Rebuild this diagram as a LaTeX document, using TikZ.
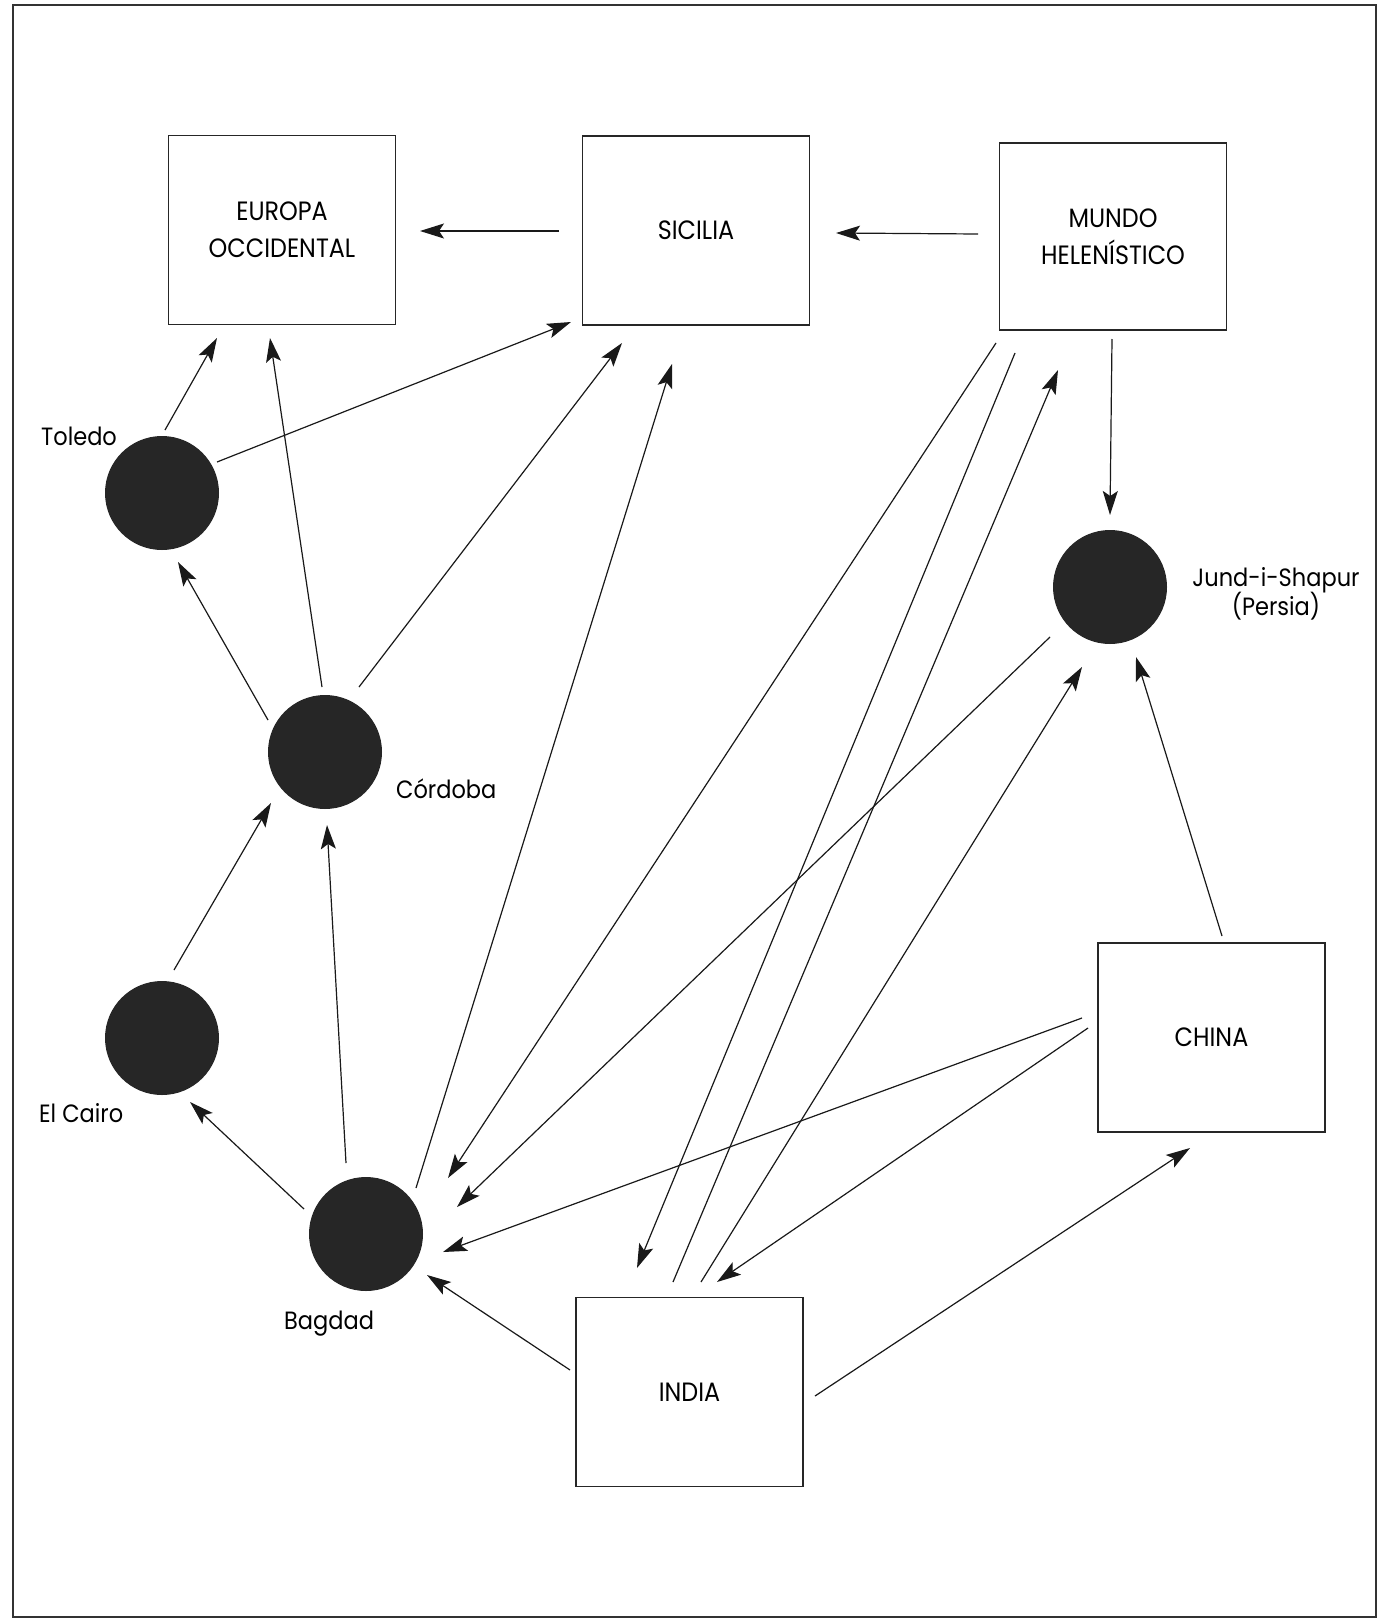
\documentclass[tikz,border=0pt]{standalone}
\usepackage{fontspec}
\setmainfont{Poppins}[FakeStretch=0.9]
\usetikzlibrary{arrows.meta,calc}
\begin{document}
\begin{tikzpicture}[x=1pt,y=-1pt,
 box/.style={draw=black!85,line width=1.3pt,minimum width=227pt,minimum height=189pt,inner sep=0pt,align=center,font=\fontsize{26.5}{37}\selectfont},
 city/.style={circle,fill=black!85,minimum size=114pt,inner sep=0pt},
 lbl/.style={font=\fontsize{25}{30}\selectfont,inner sep=0pt},
 arr/.style={line width=1.2pt,draw=black!90,-{Stealth[length=24pt,width=15pt,inset=5pt]}}]
\useasboundingbox (0,0) rectangle (1385,1622);
\fill[white] (0,0) rectangle (1385,1622);
\draw[line width=1.6pt,black!80] (13,5) rectangle (1376,1617);

\node[box] (europa) at (282,230) {EUROPA\\OCCIDENTAL};
\node[box] (sicilia) at (696,230.5) {SICILIA};
\node[box,minimum height=187pt] (mundo) at (1113,236.5) {MUNDO\\HELENÍSTICO};
\node[box] (china) at (1211.5,1037.5) {CHINA};
\node[box] (india) at (689.5,1392) {INDIA};

\node[city] (toledo) at (162,493) {};
\node[city] (cordoba) at (325,752) {};
\node[city] (cairo) at (162,1038) {};
\node[city] (bagdad) at (366,1234) {};
\node[city] (jund) at (1110,587) {};

\node[lbl,anchor=base west] (ltoledo) at (41,445) {Toledo};
\node[lbl,anchor=base west] (lcordoba) at (396,798) {Córdoba};
\node[lbl,anchor=base west] (lcairo) at (39,1122) {El Cairo};
\node[lbl,anchor=base west] (lbagdad) at (284,1329) {Bagdad};
\node[lbl,anchor=base] (ljund) at (1276,586) {Jund-i-Shapur};
\node[lbl,anchor=base] (lpersia) at (1276,615) {(Persia)};

\draw[arr] ($(sicilia)+(-137,0.5)$) -- ($(europa)+(138,1)$);
\draw[arr] ($(mundo)+(-135,-2.5)$) -- ($(sicilia)+(140,2.5)$);
\draw[arr] ($(toledo)+(3,-63)$) -- ($(europa)+(-65,108)$);
\draw[arr] ($(toledo)+(55,-31)$) -- ($(sicilia)+(-125,91.5)$);
\draw[arr] ($(cordoba)+(-3,-65)$) -- ($(europa)+(-12,108)$);
\draw[arr] ($(cordoba)+(-57,-32)$) -- ($(toledo)+(16,69)$);
\draw[arr] ($(cordoba)+(34,-65)$) -- ($(sicilia)+(-74,112.5)$);
\draw[arr] ($(bagdad)+(50,-46)$) -- ($(sicilia)+(-24,133.5)$);
\draw[arr] ($(cairo)+(12,-68)$) -- ($(cordoba)+(-54,51)$);
\draw[arr] ($(bagdad)+(-20,-71)$) -- ($(cordoba)+(2,73)$);
\draw[arr] ($(bagdad)+(-62,-25)$) -- ($(cairo)+(28,64)$);
\draw[arr] ($(india)+(-119.5,-22)$) -- ($(bagdad)+(61,41)$);
\draw[arr] ($(india)+(125.5,4)$) -- ($(china)+(-21.5,110.5)$);
\draw[arr] ($(china)+(10.5,-101.5)$) -- ($(jund)+(26,70)$);
\draw[arr] ($(mundo)+(-1,102.5)$) -- ($(jund)+(0,-72)$);
\draw[arr] ($(india)+(11.5,-110)$) -- ($(jund)+(-28,80)$);
\draw[arr] ($(india)+(-16.5,-110)$) -- ($(mundo)+(-55,133.5)$);
\draw[arr] ($(mundo)+(-117,106.5)$) -- ($(bagdad)+(82,-56)$);
\draw[arr] ($(mundo)+(-98,116.5)$) -- ($(india)+(-52.5,-124)$);
\draw[arr] ($(jund)+(-60,50)$) -- ($(bagdad)+(91,-27)$);
\draw[arr] ($(china)+(-129.5,-19.5)$) -- ($(bagdad)+(77,18)$);
\draw[arr] ($(china)+(-123.5,-9.5)$) -- ($(india)+(27.5,-110)$);
\end{tikzpicture}
\end{document}
